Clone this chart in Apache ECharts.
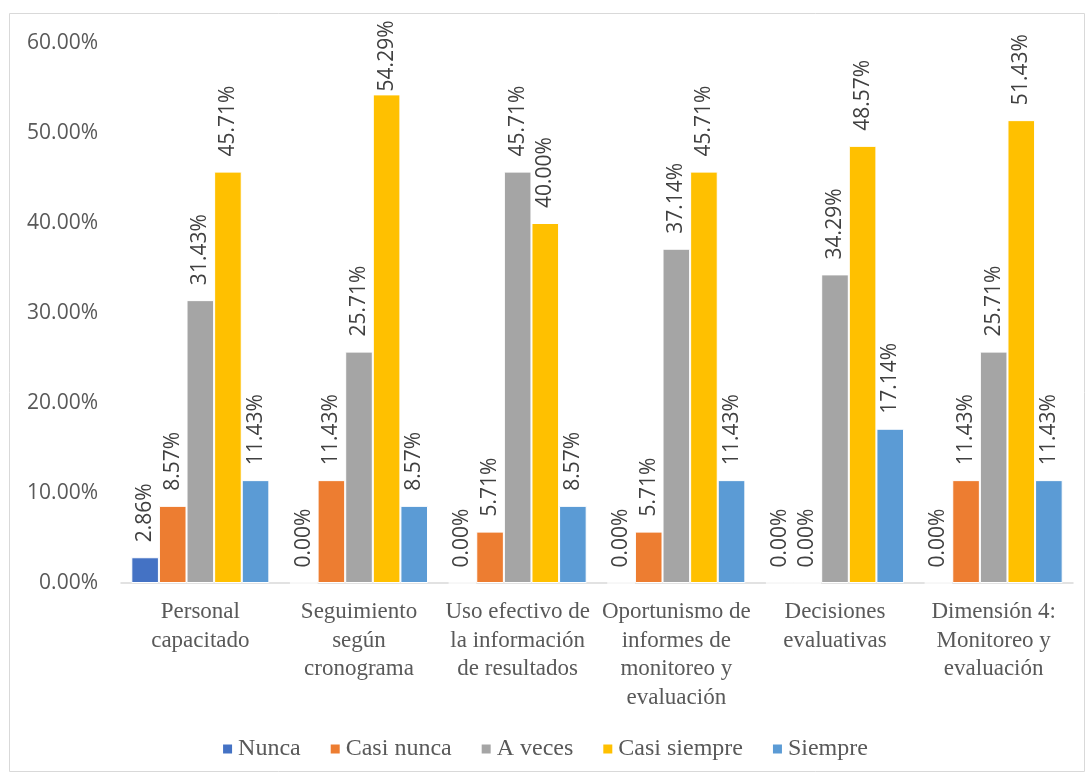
<!DOCTYPE html>
<html><head><meta charset="utf-8">
<script src="https://cdn.jsdelivr.net/npm/echarts@6/dist/echarts.min.js"></script>
<style>html,body{margin:0;padding:0;background:#fff}#c{width:1089px;height:776px}</style>
</head><body><div id="c"></div>
<script>
const categories = ["Personal\ncapacitado","Seguimiento\nsegún\ncronograma","Uso efectivo de\nla información\nde resultados","Oportunismo de\ninformes de\nmonitoreo y\nevaluación","Decisiones\nevaluativas","Dimensión 4:\nMonitoreo y\nevaluación"];
const seriesNames = ["Nunca","Casi nunca","A veces","Casi siempre","Siempre"];
const nunca = [2.86, 0.00, 0.00, 0.00, 0.00, 0.00];
const casiNunca = [8.57, 11.43, 5.71, 5.71, 0.00, 11.43];
const aVeces = [31.43, 25.71, 45.71, 37.14, 34.29, 25.71];
const casiSiempre = [45.71, 54.29, 40.00, 45.71, 48.57, 51.43];
const siempre = [11.43, 8.57, 8.57, 11.43, 17.14, 11.43];
const colors = ["#4472C4","#ED7D31","#A5A5A5","#FFC000","#5B9BD5"];
const values = [nunca, casiNunca, aVeces, casiSiempre, siempre];

const chart = echarts.init(document.getElementById('c'));
chart.setOption({
  animation:false,
  graphic:[{type:'rect',shape:{x:9.5,y:13.5,width:1075,height:758},style:{fill:'none',stroke:'#D9D9D9',lineWidth:1}}],
  grid:{left:121,right:16,top:43,bottom:193},
  legend:{top:732,left:'center',itemWidth:11,itemHeight:11,itemGap:28,icon:'rect',
    textStyle:{fontFamily:'Liberation Serif',fontSize:24,color:'#595959'},data:seriesNames},
  xAxis:{type:'category',data:categories,
    axisLine:{lineStyle:{color:'#D9D9D9',width:1.5}},axisTick:{show:false},
    axisLabel:{interval:0,fontFamily:'Liberation Serif',fontSize:23,color:'#595959',lineHeight:28.5,margin:15}},
  yAxis:{type:'value',min:0,max:60,interval:10,
    axisLabel:{formatter:v=>v.toFixed(2)+'%',fontFamily:'Open Sans',fontSize:21,color:'#595959',margin:23},
    splitLine:{show:false},axisLine:{show:false},axisTick:{show:false}},
  series:seriesNames.map((n,i)=>({name:n,type:'bar',
    data:values[i].map(v=>(v>53?{value:v,label:{distance:3}}:v)),
    barGap:'0%',barCategoryGap:'13%',
    itemStyle:{color:colors[i],borderColor:'#fff',borderWidth:1},
    label:{show:true,position:'top',rotate:90,align:'left',verticalAlign:'middle',distance:15,
      formatter:p=>p.value.toFixed(2)+'%',fontFamily:'Open Sans',fontSize:21,color:'#404040'}}))
});
</script></body></html>
